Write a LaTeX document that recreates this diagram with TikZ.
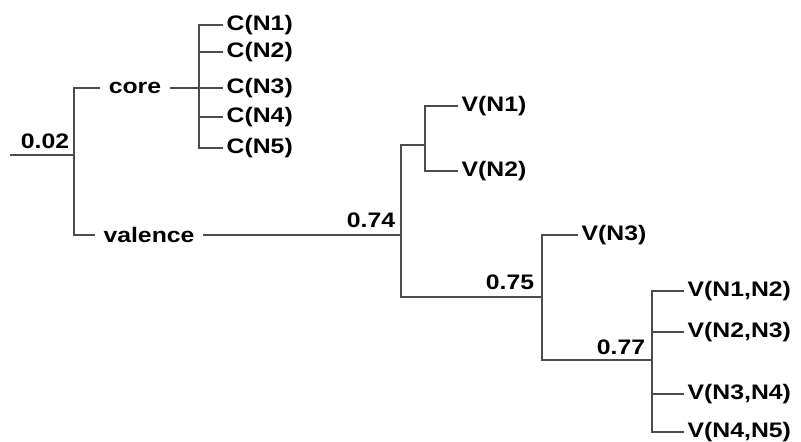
\documentclass[tikz,border=0pt]{standalone}
\usepackage{fontspec}
\newfontfamily\treefont{Liberation Sans}[FakeStretch=1.18]
\usepackage{tikz}
\usetikzlibrary{positioning}

\begin{document}
\begin{tikzpicture}[x=1pt, y=-1pt, line width=1.4pt,
  branch/.style={draw=black!70},
  leaf/.style={anchor=west, inner xsep=3pt, inner ysep=1pt,
    font=\treefont\bfseries\fontsize{21}{23}\selectfont},
  group/.style={inner xsep=8pt, inner ysep=1pt,
    font=\treefont\bfseries\fontsize{21}{23}\selectfont},
  val/.style={inner sep=0pt,
    font=\treefont\bfseries\fontsize{21}{23}\selectfont}]
  \useasboundingbox (0,0) rectangle (801,442);

  % junctions
  \coordinate (root) at (10,155);
  \coordinate (j1) at (74,155);
  \coordinate (jc) at (199,88);
  \coordinate (j74) at (401,235);
  \coordinate (j12) at (425,145);
  \coordinate (j75) at (542,297);
  \coordinate (j77) at (652,360);

  % inner labels
  \node[group] (core) at (135,88) {core};
  \node[group] (valence) at (149,235) {valence};

  % leaves
  \node[leaf] (c1) at (223,25) {C(N1)};
  \node[leaf] (c2) at (223,52) {C(N2)};
  \node[leaf] (c3) at (223,88) {C(N3)};
  \node[leaf] (c4) at (223,117) {C(N4)};
  \node[leaf] (c5) at (223,148) {C(N5)};
  \node[leaf] (v1) at (458,106) {V(N1)};
  \node[leaf] (v2) at (458,171) {V(N2)};
  \node[leaf] (v3) at (578,235) {V(N3)};
  \node[leaf] (v12) at (684,291) {V(N1,N2)};
  \node[leaf] (v23) at (684,332) {V(N2,N3)};
  \node[leaf] (v34) at (684,394) {V(N3,N4)};
  \node[leaf] (v45) at (684,432) {V(N4,N5)};

  % values
  \node[val] (l02) at (45,141) {0.02};
  \node[val] (l74) at (371,220) {0.74};
  \node[val] (l75) at (510,282) {0.75};
  \node[val] (l77) at (621,347) {0.77};

  % branches
  \draw[branch] (root) -- (j1);
  \draw[branch] (j1) |- (core);
  \draw[branch] (j1) |- (valence);
  \draw[branch] (core) -- (jc);
  \foreach \n in {c1,c2,c3,c4,c5}
    \draw[branch] (jc) |- (\n);
  \draw[branch] (valence) -- (j74);
  \draw[branch] (j74) |- (j12);
  \draw[branch] (j12) |- (v1);
  \draw[branch] (j12) |- (v2);
  \draw[branch] (j74) |- (j75);
  \draw[branch] (j75) |- (v3);
  \draw[branch] (j75) |- (j77);
  \foreach \n in {v12,v23,v34,v45}
    \draw[branch] (j77) |- (\n);
\end{tikzpicture}
\end{document}
